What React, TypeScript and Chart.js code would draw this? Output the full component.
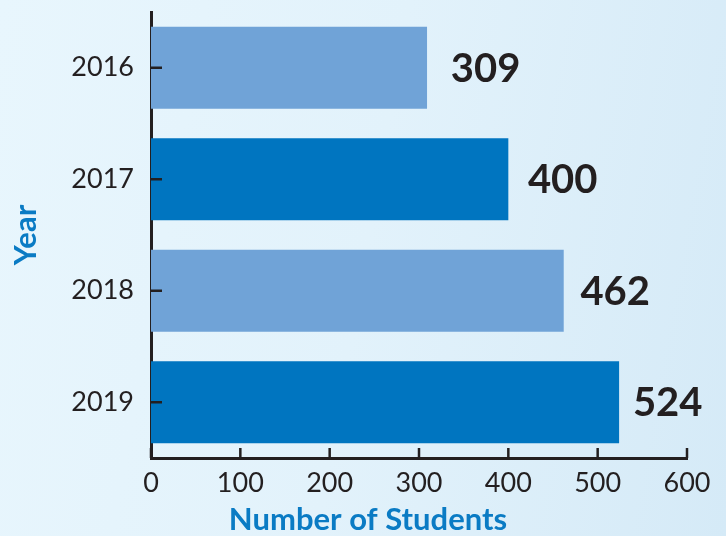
import React, { useEffect, useRef } from "react";
import { Chart, registerables } from "chart.js";

Chart.register(...registerables);

const years = ["2016", "2017", "2018", "2019"];
const students = [309, 400, 462, 524];
const barColors = ["#70a3d7", "#0075c0", "#70a3d7", "#0075c0"];
const xTicks = [0, 100, 200, 300, 400, 500, 600];

const INK = "#231f20";
const TITLE_BLUE = "#0a7bc4";
const FONT = "Lato, 'Open Sans', sans-serif";

export default function App() {
  const ref = useRef<HTMLCanvasElement | null>(null);

  useEffect(() => {
    if (!ref.current) return;
    const decor = {
      id: "decor",
      afterDraw(chart: any) {
        const ctx = chart.ctx;
        const xs = chart.scales.x;
        const ys = chart.scales.y;
        const area = chart.chartArea;
        ctx.save();
        ctx.strokeStyle = INK;
        ctx.lineWidth = 2.5;
        years.forEach((_, i) => {
          const y = ys.getPixelForValue(i);
          ctx.beginPath();
          ctx.moveTo(area.left, y);
          ctx.lineTo(area.left + 11, y);
          ctx.stroke();
        });
        xTicks.forEach((v) => {
          const x = xs.getPixelForValue(v);
          ctx.beginPath();
          ctx.moveTo(x, area.bottom);
          ctx.lineTo(x, area.bottom - 10);
          ctx.stroke();
        });
        const meta = chart.getDatasetMeta(0);
        ctx.fillStyle = INK;
        ctx.font = `bold 40px ${FONT}`;
        ctx.textAlign = "left";
        ctx.textBaseline = "middle";
        meta.data.forEach((bar: any, i: number) => {
          ctx.fillText(String(students[i]), bar.x * 0.948 + 46, bar.y + 1);
        });
        ctx.fillStyle = TITLE_BLUE;
        ctx.font = `bold 31px ${FONT}`;
        ctx.textAlign = "center";
        ctx.textBaseline = "middle";
        ctx.fillText("Number of Students", 368, 520);
        ctx.translate(26, (area.top + area.bottom) / 2);
        ctx.rotate(-Math.PI / 2);
        ctx.fillText("Year", 0, 0);
        ctx.restore();
      },
    };

    const chart = new Chart(ref.current, {
      type: "bar",
      data: {
        labels: years,
        datasets: [
          {
            data: students,
            backgroundColor: barColors,
            borderWidth: 0,
            barPercentage: 0.735,
            categoryPercentage: 1,
          },
        ],
      },
      options: {
        indexAxis: "y",
        animation: false,
        responsive: false,
        maintainAspectRatio: false,
        layout: { padding: { top: 12, right: 39, left: 0, bottom: 0 } },
        plugins: { legend: { display: false }, tooltip: { enabled: false } },
        scales: {
          x: {
            min: 0,
            max: 600,
            afterBuildTicks: (s: any) => {
              s.ticks = xTicks.map((v) => ({ value: v }));
            },
            afterFit: (s: any) => {
              s.height = 78;
              s.paddingLeft = 0;
              s.paddingRight = 0;
            },
            grid: { display: false, drawTicks: false },
            border: { display: true, color: INK, width: 3 },
            ticks: {
              color: INK,
              padding: 9,
              font: { family: FONT, size: 27 },
              maxRotation: 0,
              autoSkip: false,
            },
          },
          y: {
            afterFit: (s: any) => {
              s.width = 151;
              s.paddingTop = 0;
              s.paddingBottom = 0;
            },
            grid: { display: false, drawTicks: false },
            border: { display: true, color: INK, width: 3 },
            ticks: {
              color: INK,
              padding: 17,
              font: { family: FONT, size: 27 },
            },
          },
        },
      },
      plugins: [decor],
    });
    return () => chart.destroy();
  }, []);

  return (
    <div
      style={{
        position: "fixed",
        left: 0,
        top: 0,
        width: 726,
        height: 536,
        background: "linear-gradient(100deg, #e8f6fd 0%, #e2f2fb 50%, #d5eaf7 100%)",
      }}
    >
      <canvas ref={ref} width={726} height={536} style={{ display: "block" }} />
    </div>
  );
}
